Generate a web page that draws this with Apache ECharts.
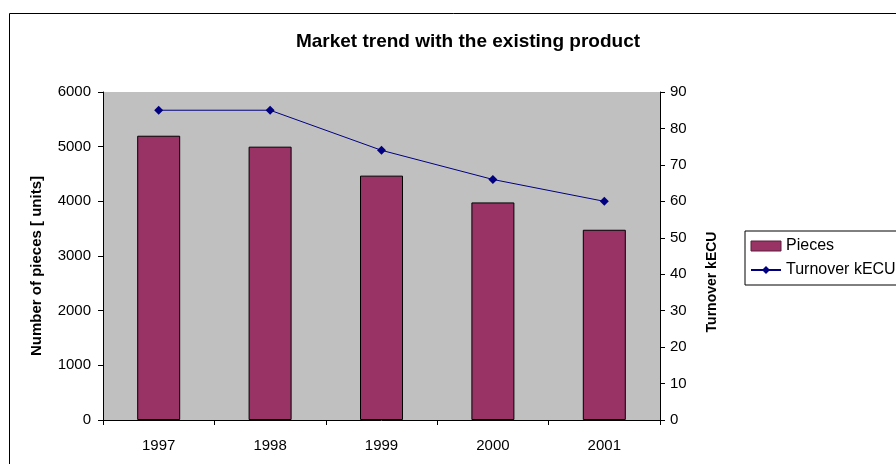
<!DOCTYPE html>
<html><head><meta charset="utf-8">
<script src="https://cdn.jsdelivr.net/npm/echarts@6/dist/echarts.min.js"></script>
<style>html,body{margin:0;padding:0;background:#fff}#c{width:896px;height:464px}</style>
</head><body><div id="c"></div>
<script>
const categories = ['1997', '1998', '1999', '2000', '2001'];
const pieces = [5200, 5000, 4470, 3980, 3480];
const turnover = [85, 85, 74, 66, 60];
const leftTicks = [0, 1000, 2000, 3000, 4000, 5000, 6000];
const rightTicks = [0, 10, 20, 30, 40, 50, 60, 70, 80, 90];

const F = 'Liberation Sans, Arial, sans-serif';
const chart = echarts.init(document.getElementById('c'));
chart.setOption({
  animation: false,
  backgroundColor: '#fff',
  title: {
    text: 'Market trend with the existing product',
    left: 463, top: 27, textAlign: 'center',
    textStyle: { fontFamily: F, fontSize: 19, fontWeight: 'bold', color: '#000' }
  },
  grid: { left: 103, top: 92, width: 557, height: 328, show: true, backgroundColor: '#c0c0c0', borderWidth: 0 },
  legend: {
    left: 745, top: 231, orient: 'vertical', itemWidth: 30, itemHeight: 10, itemGap: 8,
    padding: [7, 20, 7, 5], borderColor: '#000', borderWidth: 1, backgroundColor: '#fff',
    textStyle: { fontFamily: F, fontSize: 16, color: '#000' },
    data: [{ name: 'Pieces', icon: 'rect', itemStyle: { borderColor: '#5a1e3c', borderWidth: 1 } }, { name: 'Turnover kECU' }]
  },
  xAxis: {
    type: 'category', data: categories,
    axisLine: { lineStyle: { color: '#000' } },
    axisTick: { show: true, length: 5, lineStyle: { color: '#000' } },
    axisLabel: { fontFamily: F, fontSize: 15, color: '#000', margin: 18 },
    splitLine: { show: false }
  },
  yAxis: [
    {
      type: 'value', min: leftTicks[0], max: leftTicks[leftTicks.length - 1], interval: 1000,
      axisLine: { show: true, lineStyle: { color: '#000' } },
      axisTick: { show: true, length: 5, lineStyle: { color: '#000' } },
      axisLabel: { fontFamily: F, fontSize: 15, color: '#000', margin: 12, formatter: v => String(v) },
      splitLine: { show: false }
    },
    {
      type: 'value', position: 'right', min: rightTicks[0], max: rightTicks[rightTicks.length - 1], interval: 10,
      axisLine: { show: true, lineStyle: { color: '#000' } },
      axisTick: { show: true, length: 5, lineStyle: { color: '#000' } },
      axisLabel: { fontFamily: F, fontSize: 15, color: '#000', margin: 10 },
      splitLine: { show: false }
    }
  ],
  graphic: [
    { type: 'rect', shape: { x: 9.5, y: 13.5, width: 900, height: 460 }, style: { fill: 'none', stroke: '#000', lineWidth: 1 }, silent: true },
    { type: 'text', x: 37, y: 266, rotation: Math.PI / 2,
      style: { text: 'Number of pieces [ units]', fontFamily: F, fontSize: 15, fontWeight: 'bold', fill: '#000', align: 'center', verticalAlign: 'middle' } },
    { type: 'text', x: 712, y: 282, rotation: Math.PI / 2,
      style: { text: 'Turnover kECU', fontFamily: F, fontSize: 14, fontWeight: 'bold', fill: '#000', align: 'center', verticalAlign: 'middle' } }
  ],
  series: [
    {
      name: 'Pieces', type: 'bar', data: pieces, barWidth: 43, yAxisIndex: 0,
      itemStyle: { color: '#993366', borderColor: '#000', borderWidth: 1 }
    },
    {
      name: 'Turnover kECU', type: 'line', data: turnover, yAxisIndex: 1,
      symbol: 'diamond', symbolSize: 9,
      lineStyle: { color: '#000080', width: 1 },
      itemStyle: { color: '#000080' }
    }
  ]
});
</script></body></html>
